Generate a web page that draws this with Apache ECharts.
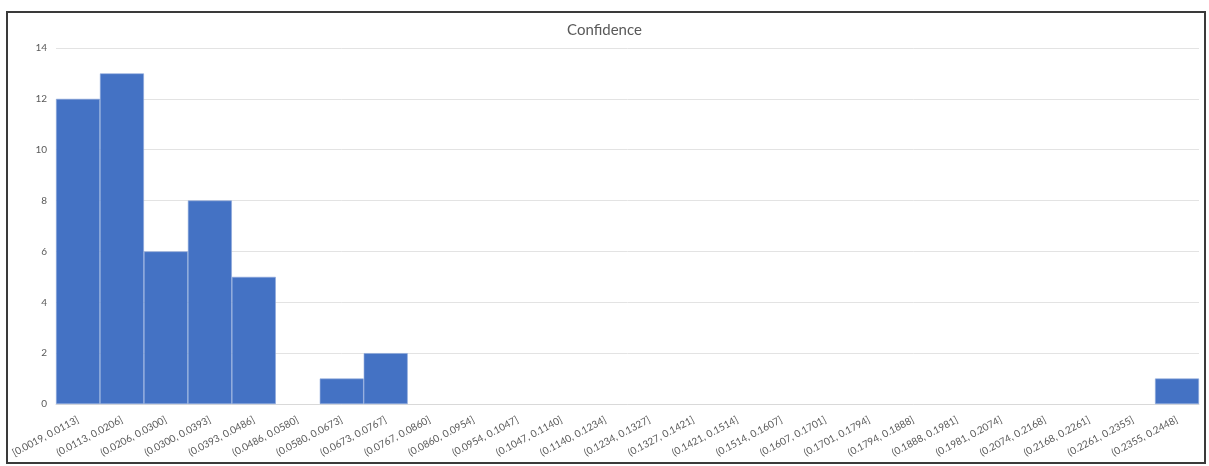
<!DOCTYPE html>
<html>
<head>
<meta charset="utf-8">
<script src="https://cdn.jsdelivr.net/npm/echarts@6/dist/echarts.min.js"></script>
<style>
  html, body { margin: 0; padding: 0; background: #ffffff; }
  #chart { width: 1209px; height: 466px; }
</style>
</head>
<body>
<div id="chart"></div>
<script>
// Histogram bins of the confidence score
const binLabels = [
  '[0.0019, 0.0113]', '(0.0113, 0.0206]', '(0.0206, 0.0300]', '(0.0300, 0.0393]',
  '(0.0393, 0.0486]', '(0.0486, 0.0580]', '(0.0580, 0.0673]', '(0.0673, 0.0767]',
  '(0.0767, 0.0860]', '(0.0860, 0.0954]', '(0.0954, 0.1047]', '(0.1047, 0.1140]',
  '(0.1140, 0.1234]', '(0.1234, 0.1327]', '(0.1327, 0.1421]', '(0.1421, 0.1514]',
  '(0.1514, 0.1607]', '(0.1607, 0.1701]', '(0.1701, 0.1794]', '(0.1794, 0.1888]',
  '(0.1888, 0.1981]', '(0.1981, 0.2074]', '(0.2074, 0.2168]', '(0.2168, 0.2261]',
  '(0.2261, 0.2355]', '(0.2355, 0.2448]'
];
// Count of observations per bin
const binCounts = [12, 13, 6, 8, 5, 0, 1, 2, 0, 0, 0, 0, 0, 0, 0, 0, 0, 0, 0, 0, 0, 0, 0, 0, 0, 1];
const yTicks = { min: 0, max: 14, interval: 2 };

const font = 'Lato, "Open Sans", sans-serif';
const chart = echarts.init(document.getElementById('chart'), null, { renderer: 'canvas' });
chart.setOption({
  animation: false,
  backgroundColor: '#ffffff',
  textStyle: { fontFamily: font },
  title: {
    text: 'Confidence',
    left: 'center',
    top: 18,
    textStyle: { fontFamily: font, fontSize: 15, fontWeight: 'normal', color: '#595959' }
  },
  graphic: [{
    type: 'rect',
    shape: { x: 7, y: 12, width: 1198, height: 451 },
    style: { fill: 'none', stroke: '#3a3a3a', lineWidth: 2 },
    silent: true
  }],
  grid: { left: 56, right: 10, top: 48, bottom: 62 },
  xAxis: {
    type: 'category',
    data: binLabels,
    axisLine: { show: true, lineStyle: { color: '#d9d9d9', width: 1 } },
    axisTick: { show: false },
    axisLabel: {
      interval: 0,
      rotate: 28,
      margin: 15,
      fontSize: 10,
      color: '#595959',
      fontFamily: font
    }
  },
  yAxis: {
    type: 'value',
    min: yTicks.min,
    max: yTicks.max,
    interval: yTicks.interval,
    axisLine: { show: false },
    axisTick: { show: false },
    axisLabel: { fontSize: 10, color: '#595959', margin: 9, fontFamily: font },
    splitLine: { lineStyle: { color: '#e3e3e3', width: 1 } }
  },
  series: [{
    type: 'bar',
    // empty bins get no outline so they leave no trace on the baseline
    data: binCounts.map(v => ({
      value: v,
      itemStyle: v === 0 ? { borderWidth: 0 } : {}
    })),
    barCategoryGap: '0%',
    itemStyle: { color: '#4472c4', borderColor: '#8fa9dc', borderWidth: 0.6 }
  }]
});
</script>
</body>
</html>
